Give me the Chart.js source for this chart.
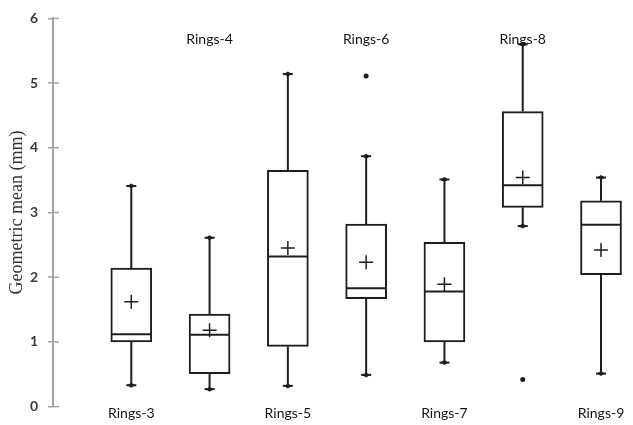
<!DOCTYPE html>
<html>
<head>
<meta charset="utf-8">
<script src="https://cdn.jsdelivr.net/npm/chart.js@4/dist/chart.umd.min.js"></script>
<style>
  html, body { margin: 0; padding: 0; background: #fff; }
  #wrap { width: 633px; height: 425px; }
</style>
</head>
<body>
<div id="wrap"><canvas id="c" width="633" height="425"></canvas></div>
<script>
// Geometric mean (mm) by number of rings
const groups = ['Rings-3', 'Rings-4', 'Rings-5', 'Rings-6', 'Rings-7', 'Rings-8', 'Rings-9'];
const whiskerLow  = [0.33, 0.27, 0.32, 0.49, 0.68, 2.79, 0.51];
const q1          = [1.00, 0.51, 0.93, 1.67, 1.00, 3.08, 2.04];
const median      = [1.12, 1.11, 2.32, 1.83, 1.78, 3.42, 2.81];
const q3          = [2.14, 1.43, 3.65, 2.82, 2.54, 4.56, 3.18];
const whiskerHigh = [3.41, 2.61, 5.14, 3.87, 3.51, 5.60, 3.54];
const means       = [1.62, 1.18, 2.45, 2.23, 1.89, 3.54, 2.42];
const outlierGroup = ['Rings-6', 'Rings-8'];
const outlierValue = [5.11, 0.42];
const yTicks = [0, 1, 2, 3, 4, 5, 6];

const pos = groups.map((g, i) => i + 1);
const INK = '#1e1e1e';
const AXIS = '#a3a3a3';

// whiskers, caps and medians drawn on the chart's own scales
const boxParts = {
  id: 'boxParts',
  beforeDatasetsDraw(chart) {
    const { ctx, scales: { x, y } } = chart;
    ctx.save();
    ctx.strokeStyle = INK;
    ctx.fillStyle = INK;
    ctx.lineWidth = 2;
    groups.forEach((g, i) => {
      const cx = x.getPixelForValue(pos[i]);
      const segs = [[q3[i], whiskerHigh[i]], [q1[i], whiskerLow[i]]];
      segs.forEach(([a, b]) => {
        ctx.beginPath();
        ctx.moveTo(cx, y.getPixelForValue(a));
        ctx.lineTo(cx, y.getPixelForValue(b));
        ctx.stroke();
        const cy = y.getPixelForValue(b);
        ctx.beginPath();
        ctx.moveTo(cx - 5, cy);
        ctx.lineTo(cx + 5, cy);
        ctx.stroke();
        ctx.beginPath();
        ctx.moveTo(cx - 4, cy);
        ctx.lineTo(cx, cy - 2.5);
        ctx.lineTo(cx + 4, cy);
        ctx.lineTo(cx, cy + 2.5);
        ctx.closePath();
        ctx.fill();
      });
    });
    ctx.restore();
  },
  afterDatasetsDraw(chart) {
    const { ctx, scales: { x, y } } = chart;
    ctx.save();
    ctx.strokeStyle = INK;
    ctx.lineWidth = 2;
    groups.forEach((g, i) => {
      const cx = x.getPixelForValue(pos[i]);
      const my = y.getPixelForValue(median[i]);
      ctx.beginPath();
      ctx.moveTo(cx - 20, my);
      ctx.lineTo(cx + 20, my);
      ctx.stroke();
    });
    ctx.restore();
  },
  afterDraw(chart) {
    const { ctx, chartArea, scales: { x, y } } = chart;
    ctx.save();
    // inner half of the y tick marks
    ctx.strokeStyle = AXIS;
    ctx.lineWidth = 1.5;
    yTicks.forEach(v => {
      const py = y.getPixelForValue(v);
      ctx.beginPath();
      ctx.moveTo(chartArea.left, py);
      ctx.lineTo(chartArea.left + 6, py);
      ctx.stroke();
    });
    // group labels, alternating top and bottom
    ctx.fillStyle = '#141414';
    ctx.font = '14px Lato';
    ctx.textAlign = 'center';
    ctx.textBaseline = 'middle';
    groups.forEach((g, i) => {
      const cx = x.getPixelForValue(pos[i]);
      const py = i % 2 === 0 ? y.getPixelForValue(0) + 7 : y.getPixelForValue(6) + 21;
      ctx.fillText(g, cx, py);
    });
    ctx.restore();
  }
};

new Chart(document.getElementById('c'), {
  type: 'bar',
  data: {
    datasets: [
      {
        type: 'bar',
        label: 'Interquartile range',
        data: groups.map((g, i) => ({ x: pos[i], y: [q1[i], q3[i]] })),
        backgroundColor: '#ffffff',
        borderColor: INK,
        borderWidth: 2,
        borderSkipped: false,
        barThickness: 41,
        order: 2
      },
      {
        type: 'scatter',
        label: 'Mean',
        data: groups.map((g, i) => ({ x: pos[i], y: means[i] })),
        pointStyle: 'cross',
        radius: 7,
        borderColor: INK,
        borderWidth: 1.5,
        order: 1
      },
      {
        type: 'scatter',
        label: 'Outliers',
        data: outlierGroup.map((g, k) => ({ x: pos[groups.indexOf(g)], y: outlierValue[k] })),
        pointStyle: 'circle',
        radius: 2.5,
        backgroundColor: INK,
        borderColor: INK,
        borderWidth: 0,
        order: 1
      }
    ]
  },
  options: {
    responsive: false,
    animation: false,
    events: [],
    layout: { padding: { top: 16, bottom: 17, left: 0, right: 0 } },
    plugins: { legend: { display: false }, tooltip: { enabled: false } },
    scales: {
      x: {
        type: 'linear',
        display: false,
        min: 0,
        max: 7.3,
        offset: false
      },
      y: {
        min: 0,
        max: 6,
        afterFit(scale) { scale.width = 53; },
        afterBuildTicks(scale) { scale.ticks = yTicks.map(v => ({ value: v })); },
        border: { display: true, color: AXIS, width: 2 },
        grid: { drawOnChartArea: false, drawTicks: true, tickLength: 5, color: AXIS, lineWidth: 1.5 },
        title: {
          display: true,
          text: 'Geometric mean (mm)',
          color: '#333',
          font: { family: 'Liberation Serif', size: 18 },
          padding: { top: 6, bottom: 0 }
        },
        ticks: {
          padding: 10,
          color: '#3a3a3a',
          font: { family: 'Lato', size: 14, weight: 'bold' }
        }
      }
    }
  },
  plugins: [boxParts]
});
</script>
</body>
</html>
